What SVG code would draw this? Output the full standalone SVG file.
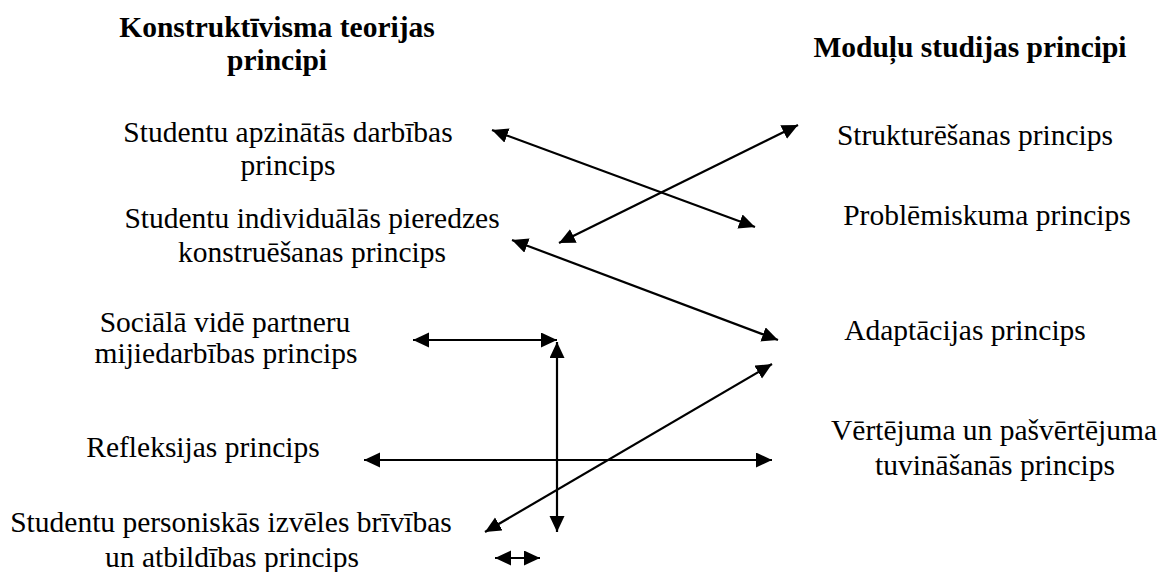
<svg xmlns="http://www.w3.org/2000/svg" width="1157" height="572" viewBox="0 0 1157 572" font-family="'Liberation Serif', 'Times New Roman', 'DejaVu Serif', serif">
<style>
text{font-family:'Liberation Serif','Times New Roman','DejaVu Serif',serif;font-size:29.5px;fill:#000;text-anchor:middle}
.h{font-weight:bold}
.c line{stroke:#000;stroke-width:2.2;marker-start:url(#ah);marker-end:url(#ah)}
</style>
<defs>
<marker id="ah" markerUnits="userSpaceOnUse" markerWidth="17" markerHeight="16" refX="16" refY="7.5" orient="auto-start-reverse" viewBox="0 0 17 16">
<path d="M0,0 L16,7.5 L0,15 z" fill="#000"/>
</marker>
</defs>
<rect width="1157" height="572" fill="#fff"/>
<g id="title-left"><text class="h" x="277" y="37">Konstruktīvisma teorijas</text><text class="h" x="277" y="70">principi</text></g>
<g id="title-right"><text class="h" x="970" y="57">Moduļu studijas principi</text></g>
<g id="n-apzinatas"><text x="288" y="142">Studentu apzinātās darbības</text><text x="288" y="175">princips</text></g>
<g id="n-individualas"><text x="312" y="228">Studentu individuālās pieredzes</text><text x="312" y="262">konstruēšanas princips</text></g>
<g id="n-sociala"><text x="225" y="332">Sociālā vidē partneru</text><text x="226" y="363">mijiedarbības princips</text></g>
<g id="n-refleksijas"><text x="203" y="457">Refleksijas princips</text></g>
<g id="n-personiskas"><text x="231" y="532">Studentu personiskās izvēles brīvības</text><text x="232" y="567">un atbildības princips</text></g>
<g id="n-strukturesanas"><text x="975" y="145">Strukturēšanas princips</text></g>
<g id="n-problemiskuma"><text x="987" y="225">Problēmiskuma princips</text></g>
<g id="n-adaptacijas"><text x="965" y="340">Adaptācijas princips</text></g>
<g id="n-vertejuma"><text x="994" y="440">Vērtējuma un pašvērtējuma</text><text x="995" y="475">tuvināšanās princips</text></g>
<g id="connectors" class="c">
<line x1="492" y1="130" x2="755" y2="227"/>
<line x1="559" y1="243" x2="798" y2="125"/>
<line x1="512" y1="240" x2="778" y2="340"/>
<line x1="413" y1="340" x2="557" y2="340"/>
<line x1="557" y1="342" x2="557" y2="532"/>
<line x1="364" y1="460" x2="772" y2="460"/>
<line x1="485" y1="532" x2="772" y2="364"/>
<line x1="495" y1="558" x2="540" y2="558"/>
</g>
</svg>
